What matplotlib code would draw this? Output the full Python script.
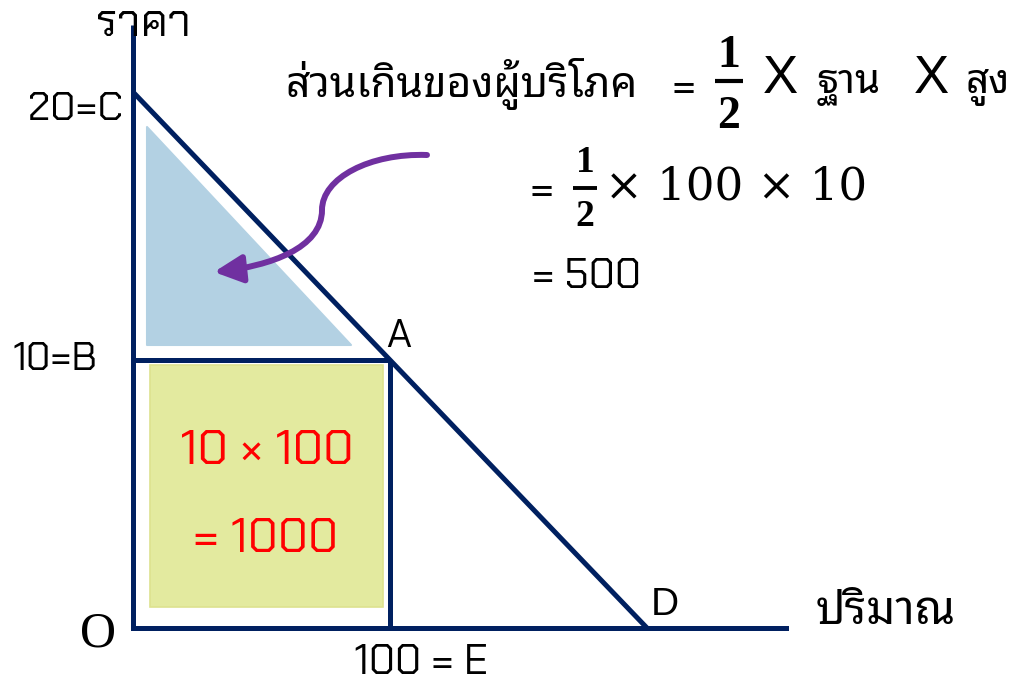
import matplotlib
matplotlib.use('Agg')
import matplotlib.pyplot as plt
import matplotlib.patches as patches
from matplotlib.path import Path
from matplotlib.transforms import Affine2D

# ── data (quantity, price) ───────────────────────────────────────
demand_q = [0, 200]          # C -> D
demand_p = [20, 0]
eq_q = 100                   # point A
eq_p = 10
axis_q_max = 254
axis_p_max = 22.5

# consumer surplus triangle (drawn slightly inset, as in the slide)
cs_q = [5.5, 5.5, 85.0]
cs_p = [18.7, 10.55, 10.55]
# expenditure rectangle (inset)
rect_q = [6.6, 97.3]
rect_p = [0.8, 9.8]

NAVY = '#002060'
PURPLE = '#7030A0'
LABEL_FONT = ['Chakra Petch', 'DejaVu Sans']
THAI_FONT = ['Noto Sans Thai Looped', 'Noto Sans Thai', 'DejaVu Sans']

W, H = 1013, 682
fig = plt.figure(figsize=(W / 100, H / 100), dpi=100)
fig.patch.set_facecolor('white')
ax = fig.add_axes([0, 0, 1, 1])
ax.axis('off')

# pixel scale: origin at (133, 628)
sx, sy = 2.57, 26.8
ax.set_xlim(-133 / sx, (W - 133) / sx)
ax.set_ylim(-(H - 628) / sy, 628 / sy)

# pixel transform for annotations (y down)
px = Affine2D().scale(1, -1).translate(0, H)

# ── shaded areas ─────────────────────────────────────────────────
ax.add_patch(patches.Polygon(list(zip(cs_q, cs_p)), closed=True,
             facecolor='#B3D1E3', edgecolor='#B3D1E3', lw=1.5, joinstyle='round', zorder=1))
ax.add_patch(patches.Rectangle((rect_q[0], rect_p[0]), rect_q[1] - rect_q[0], rect_p[1] - rect_p[0],
             facecolor='#E3EA9F', edgecolor='#DDE28F', lw=1.2, zorder=1))

# ── axes & lines ─────────────────────────────────────────────────
lw = 3.6
ax.plot([0, 0], [0, axis_p_max], color=NAVY, lw=lw, solid_capstyle='butt', zorder=3)
ax.plot([0, axis_q_max], [0, 0], color=NAVY, lw=lw, solid_capstyle='projecting', zorder=3)
ax.plot(demand_q, demand_p, color=NAVY, lw=lw, solid_capstyle='butt', zorder=3)
ax.plot([0, eq_q], [eq_p, eq_p], color=NAVY, lw=lw, solid_capstyle='butt', zorder=3)
ax.plot([eq_q, eq_q], [0, eq_p], color=NAVY, lw=lw, solid_capstyle='butt', zorder=3)

# ── curved purple arrow ──────────────────────────────────────────
verts = [(427, 155), (370, 153), (322, 178), (322, 210),
         (322, 248), (270, 266), (214, 272)]
codes = [Path.MOVETO, Path.CURVE4, Path.CURVE4, Path.CURVE4,
         Path.CURVE4, Path.CURVE4, Path.CURVE4]
arrow = patches.FancyArrowPatch(path=Path(verts, codes),
                                arrowstyle='-|>,head_length=0.85,head_width=0.42',
                                mutation_scale=20, color=PURPLE, lw=4.3,
                                shrinkA=0, shrinkB=0, zorder=4)
arrow.set_transform(px)
ax.add_patch(arrow)

# ── labels ───────────────────────────────────────────────────────
def t(x, y, s, size, ha='center', family=LABEL_FONT, color='black', weight='normal'):
    ax.text(x, y, s, transform=px, ha=ha, va='center', fontsize=size,
            family=family, color=color, fontweight=weight, zorder=5)

t(143, 25, 'ราคา', 32)
t(123, 110, '20=C', 29, ha='right')
t(97, 360, '10=B', 28, ha='right')
t(386, 337, 'A', 29, ha='left')
t(98, 634, 'O', 36, family=['Liberation Serif'])
t(421, 664, '100 = E', 30)
t(651, 605, 'D', 28, ha='left', family=['Liberation Sans'])
t(886, 612, 'ปริมาณ', 33, family=THAI_FONT)

# red calculation inside rectangle
t(267, 452, '10 × 100', 35, color='#FF0000')
t(266, 541, '= 1000', 34.5, color='#FF0000')

# formula
t(285, 84, 'ส่วนเกินของผู้บริโภค', 30.5, ha='left', family=THAI_FONT)
t(684, 88, '=', 32)
SERIF = ['Liberation Serif']
t(729, 56, '1', 33, family=SERIF, weight='bold')
t(729, 117, '2', 33, family=SERIF, weight='bold')
ax.plot([715, 743], [81, 81], color='black', lw=3, transform=px, solid_capstyle='butt')
t(780, 79, 'X', 38, family=['Liberation Sans'])
t(817, 86, 'ฐาน', 29, ha='left', family=THAI_FONT)
t(931, 79, 'X', 38, family=['Liberation Sans'])
t(966, 86, 'สูง', 29, ha='left', family=THAI_FONT)

t(542, 191, '=', 32)
t(585, 163, '1', 27, family=SERIF, weight='bold')
t(585, 217, '2', 27, family=SERIF, weight='bold')
ax.plot([573, 597], [188, 188], color='black', lw=2.8, transform=px, solid_capstyle='butt')
t(605, 187, '× 100 × 10', 32.5, ha='left', family=['DejaVu Serif'])

t(532, 278, '= 500', 30, ha='left')

fig.savefig('out.png', dpi=100, facecolor='white')
print('Done.')
